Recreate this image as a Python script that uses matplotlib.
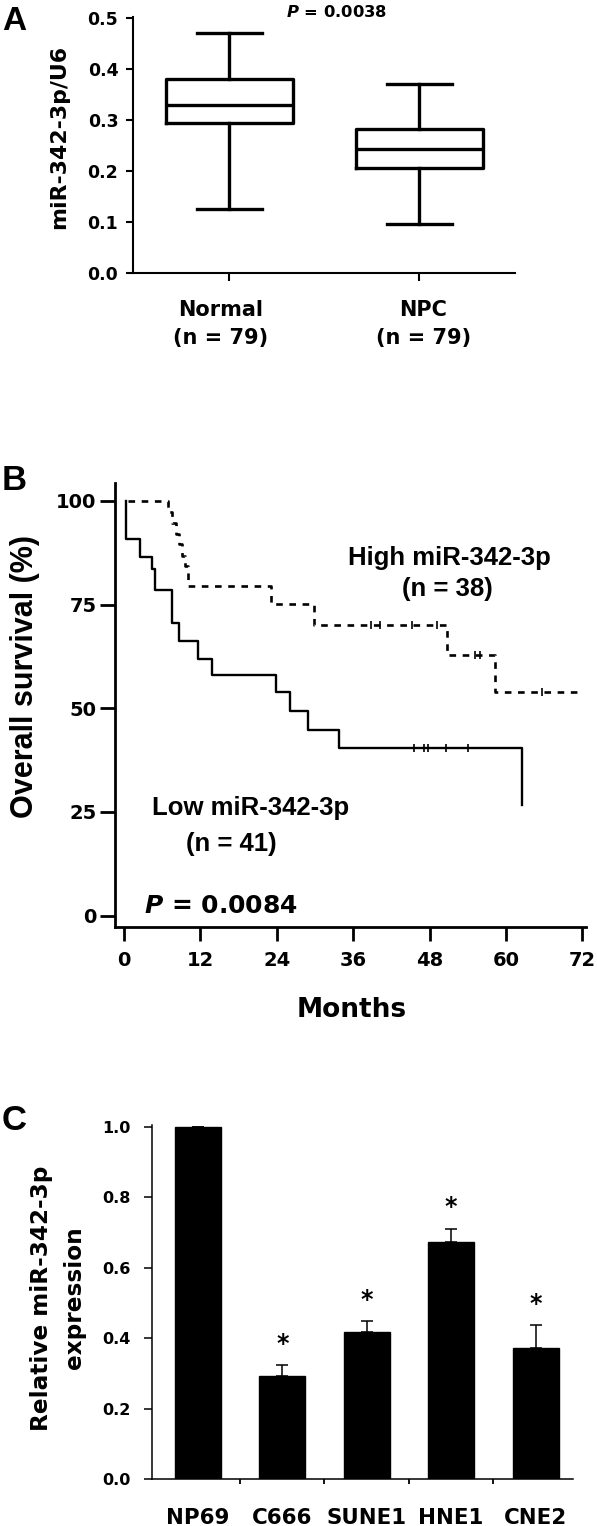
import matplotlib
matplotlib.use('Agg')
import matplotlib.pyplot as plt
import numpy as np
from matplotlib.transforms import ScaledTranslation

W, H, DPI = 597, 1526, 100
plt.rcParams['font.family'] = ['DejaVu Sans']
plt.rcParams['font.weight'] = 'bold'
plt.rcParams['mathtext.fontset'] = 'custom'
plt.rcParams['mathtext.it'] = 'DejaVu Sans:italic:bold'
plt.rcParams['mathtext.rm'] = 'DejaVu Sans:bold'
ARIAL = ['Liberation Sans', 'DejaVu Sans']

# ---------------- Panel A data ----------------
box_labels = ['Normal\n(n = 79)', 'NPC\n(n = 79)']
box_whislo = [0.125, 0.096]
box_q1 = [0.295, 0.206]
box_med = [0.329, 0.244]
box_q3 = [0.380, 0.282]
box_whishi = [0.470, 0.371]
a_yticks = [0.0, 0.1, 0.2, 0.3, 0.4, 0.5]

# ---------------- Panel B data ----------------
low_t = [0.4, 0.4, 2.6, 4.35, 4.9, 7.5, 8.7, 11.7, 13.9, 23.9, 26.1, 28.95, 33.8, 62.5]
low_s = [100, 90.8, 86.4, 83.5, 78.5, 70.5, 66.1, 61.8, 58.0, 53.8, 49.4, 44.8, 40.3, 26.7]
low_cens_t = [45.5, 47.2, 47.8, 50.6, 54.1]
low_cens_s = [40.3, 40.3, 40.3, 40.3, 40.3]
high_t = [0.7, 6.9, 7.5, 8.2, 8.7, 9.2, 9.6, 10.1, 23.1, 29.8, 50.7, 58.3, 71.4]
high_s = [100, 97.4, 94.7, 92.1, 89.5, 86.8, 84.2, 79.5, 75.1, 70.1, 62.8, 54.0, 54.0]
high_cens_t = [38.8, 40.2, 45.3, 49.1, 55.1, 55.9, 65.6]
high_cens_s = [70.1, 70.1, 70.1, 70.1, 62.8, 62.8, 54.0]
b_xticks = [0, 12, 24, 36, 48, 60, 72]
b_yticks = [0, 25, 50, 75, 100]

# ---------------- Panel C data ----------------
cell_lines = ['NP69', 'C666', 'SUNE1', 'HNE1', 'CNE2']
expr = [1.0, 0.292, 0.418, 0.672, 0.371]
expr_err = [0.0, 0.032, 0.031, 0.039, 0.066]
signif = ['', '*', '*', '*', '*']
c_yticks = [0.0, 0.2, 0.4, 0.6, 0.8, 1.0]

fig = plt.figure(figsize=(W / DPI, H / DPI), dpi=DPI)


def rect(l, t, r, b):
    return [l / W, 1 - b / H, (r - l) / W, (b - t) / H]


def fx(px):
    return px / W


def fy(py):
    return 1 - py / H


# ================= Panel A =================
axA = fig.add_axes(rect(133.3, 16.7, 515, 272.7))
stats = [dict(med=m, q1=a, q3=b, whislo=lo, whishi=hi, fliers=[])
         for m, a, b, lo, hi in zip(box_med, box_q1, box_q3, box_whislo, box_whishi)]
lw_box = 2.4
axA.bxp(stats, positions=[1, 2], widths=0.672, capwidths=0.346, showfliers=False,
        boxprops=dict(color='black', lw=lw_box),
        whiskerprops=dict(color='black', lw=lw_box),
        capprops=dict(color='black', lw=lw_box),
        medianprops=dict(color='black', lw=lw_box))
axA.set_xlim(0.494, 2.503)
axA.set_ylim(0, 0.503)
axA.set_yticks(a_yticks)
axA.set_yticklabels([f'{v:.1f}' for v in a_yticks])
axA.set_xticks([1, 2])
axA.set_xticklabels(box_labels, linespacing=1.5)
for sp in ['top', 'right']:
    axA.spines[sp].set_visible(False)
for sp in ['left', 'bottom']:
    axA.spines[sp].set_linewidth(1.5)
axA.tick_params(axis='y', direction='out', length=4.8, width=1.5, pad=6, labelsize=12.5)
axA.tick_params(axis='x', direction='out', length=5.8, width=1.5, pad=14, labelsize=15)
for lbl, dx in zip(axA.get_xticklabels(), [-9, 4]):
    lbl.set_transform(lbl.get_transform() + ScaledTranslation(dx / DPI, 0, fig.dpi_scale_trans))
fig.text(fx(59), fy(136.7), 'miR-342-3p/U6', rotation=90, ha='center', va='center',
         fontsize=15.8, fontweight='bold')
fig.text(fx(336.7), fy(16.7), r'$P$ = 0.0038', ha='center', va='baseline',
         fontsize=11.8, fontweight='bold')
fig.text(fx(14), fy(30), 'A', ha='center', va='baseline', fontsize=24,
         fontweight='bold', family=ARIAL)

# ================= Panel B =================
axB = fig.add_axes(rect(115, 482.7, 586.2, 927))
axB.plot(low_t, low_s, drawstyle='steps-post', color='black', lw=1.7)
axB.plot(high_t, high_s, drawstyle='steps-post', color='black', lw=1.9,
         linestyle=(0, (2.5, 2.5)))
axB.plot(low_cens_t, low_cens_s, linestyle='none', marker='|', ms=6, mew=1.2, color='black')
axB.plot(high_cens_t, high_cens_s, linestyle='none', marker='|', ms=6, mew=1.2, color='black')
axB.set_xlim(-1.4, 72.6)
axB.set_ylim(-2.77, 104.4)
axB.set_xticks(b_xticks)
axB.set_yticks(b_yticks)
for sp in ['top', 'right']:
    axB.spines[sp].set_visible(False)
for sp in ['left', 'bottom']:
    axB.spines[sp].set_linewidth(2)
axB.tick_params(axis='y', direction='out', length=10.8, width=2, pad=2.4, labelsize=14)
axB.tick_params(axis='x', direction='out', length=10, width=2, pad=7.2, labelsize=14)
fig.text(fx(25), fy(676.7), 'Overall survival (%)', rotation=90, ha='center', va='center',
         fontsize=22, fontweight='bold', family=ARIAL)
fig.text(fx(351.7), fy(1016.7), 'Months', ha='center', va='baseline',
         fontsize=19, fontweight='bold')
fig.text(fx(449), fy(565), 'High miR-342-3p', ha='center', va='baseline',
         fontsize=18.5, fontweight='bold', family=ARIAL)
fig.text(fx(447.5), fy(596), '(n = 38)', ha='center', va='baseline',
         fontsize=18.5, fontweight='bold', family=ARIAL)
fig.text(fx(251), fy(815), 'Low miR-342-3p', ha='center', va='baseline',
         fontsize=18.5, fontweight='bold', family=ARIAL)
fig.text(fx(231.7), fy(851), '(n = 41)', ha='center', va='baseline',
         fontsize=18.5, fontweight='bold', family=ARIAL)
fig.text(fx(220.8), fy(913.3), r'$P$ = 0.0084', ha='center', va='baseline',
         fontsize=18, fontweight='bold')
fig.text(fx(14.5), fy(490), 'B', ha='center', va='baseline', fontsize=25,
         fontweight='bold', family=ARIAL)

# ================= Panel C =================
axC = fig.add_axes(rect(151.7, 1125, 572.7, 1479))
xpos = np.arange(len(cell_lines))
axC.bar(xpos, expr, width=0.545, color='black', edgecolor='black',
        yerr=[np.zeros(len(expr_err)), expr_err], capsize=4.3,
        error_kw=dict(ecolor='black', elinewidth=1.1, capthick=1.1))
for x, v, e, s in zip(xpos, expr, expr_err, signif):
    if s:
        axC.annotate(s, (x, v + e), xytext=(0, 10.3), textcoords='offset points',
                     ha='center', va='baseline', fontsize=17, fontweight='bold')
axC.set_xlim(-0.546, 4.44)
axC.set_ylim(0, 1.005)
axC.set_yticks(c_yticks)
axC.set_yticklabels([f'{v:.1f}' for v in c_yticks])
axC.set_xticks(xpos)
axC.set_xticklabels(cell_lines)
axC.set_xticks(xpos[:-1] + 0.5, minor=True)
for sp in ['top', 'right']:
    axC.spines[sp].set_visible(False)
for sp in ['left', 'bottom']:
    axC.spines[sp].set_linewidth(1.1)
axC.tick_params(axis='y', direction='out', length=5.5, width=1.1, pad=10, labelsize=11.5)
axC.tick_params(axis='x', which='major', length=0, pad=21.2, labelsize=15.4)
axC.tick_params(axis='x', which='minor', direction='out', length=3.6, width=1.3)
fig.text(fx(58), fy(1298), 'Relative miR-342-3p\nexpression', rotation=90, ha='center',
         va='center', fontsize=16.7, fontweight='bold', linespacing=1.55,
         multialignment='center')
fig.text(fx(14.5), fy(1130), 'C', ha='center', va='baseline', fontsize=25,
         fontweight='bold', family=ARIAL)

fig.savefig('out.png', dpi=DPI)
